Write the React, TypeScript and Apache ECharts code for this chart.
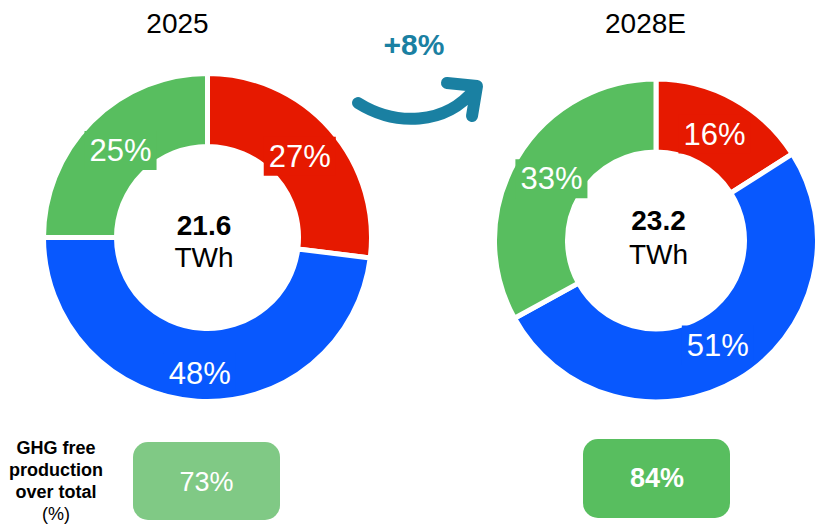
import React, { useEffect, useRef } from "react";
import * as echarts from "echarts";

const years = ["2025", "2028E"];
const categories = ["Segment A", "Segment B", "Segment C"];
const shares2025 = [27, 48, 25];
const shares2028 = [16, 51, 33];
const totals = ["21.6", "23.2"];
const unit = "TWh";
const ghgFree = ["73%", "84%"];
const growth = "+8%";
const ghgLabelLines = ["GHG free", "production", "over total"];
const ghgLabelUnit = "(%)";

const segmentColors = ["#E61900", "#0858FE", "#58BE5F"];
const teal = "#1A80A2";
const FONT = "'Liberation Sans', Arial, sans-serif";

function makeRing(values: number[], center: [number, number], radius: [number, number]) {
  return {
    type: "pie",
    silent: true,
    center,
    radius,
    startAngle: 90,
    clockwise: true,
    z: 2,
    itemStyle: { borderColor: "#ffffff", borderWidth: 5 },
    label: { show: false },
    labelLine: { show: false },
    data: values.map((v, i) => ({
      name: categories[i],
      value: v,
      itemStyle: { color: segmentColors[i] },
    })),
  };
}

function makeLabels(
  values: number[],
  center: [number, number],
  mid: number,
  offsets: ([number, number] | null)[]
) {
  return {
    type: "pie",
    silent: true,
    center,
    radius: [mid - 1, mid + 1],
    startAngle: 90,
    clockwise: true,
    z: 3,
    avoidLabelOverlap: false,
    itemStyle: { color: "rgba(0,0,0,0)", borderWidth: 0 },
    label: {
      show: true,
      position: "inside",
      formatter: "{c}%",
      color: "#ffffff",
      fontSize: 31,
      fontFamily: FONT,
      padding: [4, 5],
    },
    labelLine: { show: false },
    data: values.map((v, i) => ({
      name: categories[i],
      value: v,
      label: {
        backgroundColor: segmentColors[i],
        ...(offsets[i] ? { offset: offsets[i] } : {}),
      },
    })),
  };
}

function txt(text: string, x: number, y: number, size: number, weight: string, fill: string) {
  return {
    type: "text",
    x,
    y,
    silent: true,
    style: {
      text,
      fill,
      fontSize: size,
      fontWeight: weight,
      fontFamily: FONT,
      textAlign: "center",
      textVerticalAlign: "middle",
    },
  };
}

export default function App() {
  const ref = useRef<HTMLDivElement>(null);
  useEffect(() => {
    if (!ref.current) return;
    const chart = echarts.init(ref.current, null, { renderer: "svg" });
    const graphic: any[] = [
      txt(years[0], 177.5, 23, 28, "normal", "#000"),
      txt(years[1], 645.5, 23, 28, "normal", "#000"),
      txt(totals[0], 204, 225, 28, "bold", "#000"),
      txt(unit, 204, 257.5, 28, "normal", "#000"),
      txt(totals[1], 658.5, 220.5, 28, "bold", "#000"),
      txt(unit, 658.5, 254, 28, "normal", "#000"),
      txt(growth, 414, 44, 30, "bold", teal),
      {
        type: "bezierCurve",
        silent: true,
        shape: { x1: 358, y1: 103, cpx1: 395, cpy1: 126, cpx2: 445, cpy2: 126, x2: 475, y2: 89 },
        style: { stroke: teal, lineWidth: 12, fill: null, lineCap: "round" },
      },
      {
        type: "polyline",
        silent: true,
        shape: { points: [[447, 83], [477, 86], [472, 116]] },
        style: { stroke: teal, lineWidth: 12, fill: null, lineCap: "round", lineJoin: "round" },
      },
      {
        type: "rect",
        silent: true,
        shape: { x: 133, y: 442, width: 147, height: 78, r: 15 },
        style: { fill: "#80C985" },
      },
      txt(ghgFree[0], 206.5, 481.5, 27, "normal", "#fff"),
      {
        type: "rect",
        silent: true,
        shape: { x: 583, y: 439, width: 147, height: 79, r: 15 },
        style: { fill: "#58BE5F" },
      },
      txt(ghgFree[1], 657, 478, 27, "bold", "#fff"),
      ...ghgLabelLines.map((l, i) => txt(l, 56, 448 + i * 22, 18, "bold", "#000")),
      txt(ghgLabelUnit, 56, 448 + 3 * 22, 18, "normal", "#000"),
    ];
    chart.setOption({
      animation: false,
      backgroundColor: "#ffffff",
      series: [
        makeRing(shares2025, [207.5, 237.5], [91, 164]),
        makeRing(shares2028, [656, 240.5], [88.5, 161.5]),
        makeLabels(shares2025, [207.5, 237.5], 120, [null, [0, 13], null]),
        makeLabels(shares2028, [656, 240.5], 118.5, [null, null, null]),
      ],
      graphic,
    });
    return () => chart.dispose();
  }, []);
  return (
    <div
      ref={ref}
      style={{ position: "fixed", left: 0, top: 0, width: 821, height: 525 }}
    />
  );
}
